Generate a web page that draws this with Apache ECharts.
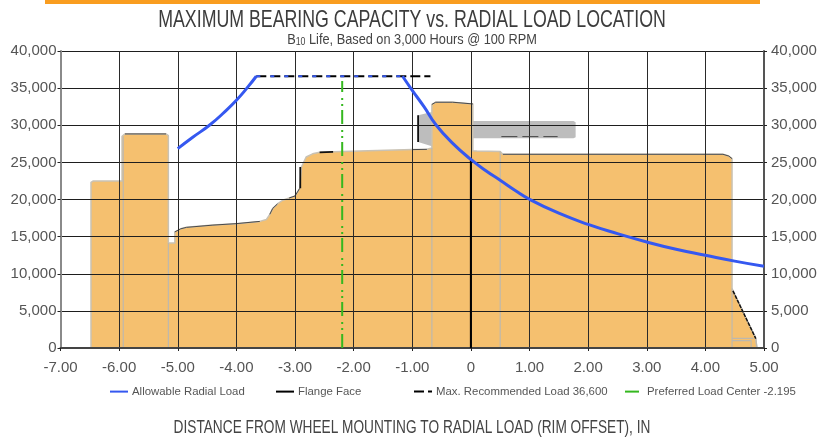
<!DOCTYPE html>
<html><head><meta charset="utf-8">
<style>html,body{margin:0;padding:0;background:#fff}#c{width:832px;height:438px}</style>
<script src="https://cdn.jsdelivr.net/npm/echarts@6/dist/echarts.min.js"></script>
</head><body><div id="c"></div>
<script>
const xTicks = [-7,-6,-5,-4,-3,-2,-1,0,1,2,3,4,5];
const titleText = 'MAXIMUM BEARING CAPACITY vs. RADIAL LOAD LOCATION';
const xAxisTitle = 'DISTANCE FROM WHEEL MOUNTING TO RADIAL LOAD (RIM OFFSET), IN';
const legendNames = ['Allowable Radial Load','Flange Face','Max. Recommended Load 36,600','Preferred Load Center -2.195'];

const allowableRise = [[-5,26850],[-4.75,28350],[-4.46,30000],[-4.2,31800],[-4,33360],[-3.8,35200],[-3.66,36600]];
const allowableFlat = [[-3.66,36600],[-1.165,36600]];
const allowableFall = [[-1.165,36600],[-1,34700],[-0.8,32500],[-0.59,30000],[-0.3,27500],[0,25400],[0.25,23900],[0.5,22590],[0.75,21250],[1,20030],[1.5,18150],[2,16650],[2.5,15400],[3,14280],[3.5,13300],[4,12490],[4.5,11700],[5,11000]];
const flangeFace = [[0,0],[0,25400]];
const maxLoad = [[-3.66,36600],[-0.69,36600]];
const preferred = [[-2.195,0],[-2.195,35960]];

const wheelShape = [[-6.48,0],[-6.48,22300],[-6.44,22490],[-5.95,22490],[-5.95,28500],[-5.9,28830],[-5.2,28830],[-5.16,28600],[-5.16,14140],[-5.05,14140],[-5.05,15630],[-4.95,16050],[-4.85,16250],[-4.4,16550],[-4,16750],[-3.6,17050],[-3.49,17300],[-3.43,18000],[-3.38,18800],[-3.3,19400],[-3.21,19900],[-3,20470],[-2.92,21500],[-2.89,24380],[-2.81,25730],[-2.7,26150],[-2.58,26350],[-2.2,26450],[-1.6,26600],[-0.99,26720],[-0.75,26760],[-0.665,26940],[-0.665,32800],[-0.6,33100],[-0.31,33100],[-0.28,32900],[0.034,32870],[0.034,26560],[0.1,26530],[0.5,26450],[0.546,26090],[4.3,26090],[4.4,25850],[4.455,25500],[4.455,8000],[4.86,1270],[4.88,0]];
const boltShape = [[-0.9,27750],[-0.9,31340],[-0.665,31800],[0.034,31800],[0.034,30580],[1.75,30580],[1.787,30400],[1.787,28400],[1.75,28250],[0.034,28250],[0.034,27170],[-0.665,27170]];
const darkEdges = [[-5.9,28830],[-5.2,28830],[null,null],[-5.05,15630],[-4.95,16050],[-4.85,16250],[-4.4,16550],[-4,16750],[-3.6,17050],[null,null],[-3.43,18000],[-3.38,18800],[-3.3,19400],[null,null],[-3.1,20200],[-3,20470],[-2.92,21500],[null,null],[-0.99,26720],[-0.75,26760],[null,null],[-0.665,32800],[-0.6,33100],[-0.31,33100],[-0.28,32900],[0.034,32870],[null,null],[0.546,26090],[4.3,26090],[4.4,25850],[4.455,25500]];
const blackEdges = [[-2.91,21500],[-2.91,24380],[null,null],[-2.58,26350],[-2.35,26420],[null,null],[-0.9,27750],[-0.9,31340]];
const slopeEdge = [[4.47,7700],[4.86,1270]];
const lightDividers = [[-5.93,0],[-5.93,28500],[null,null],[-5.16,0],[-5.16,14140],[null,null],[-0.665,0],[-0.665,26940],[null,null],[0.5,0],[0.5,26450],[null,null],[4.455,0],[4.455,8000],[null,null],[4.455,1300],[4.82,1300],[null,null],[4.455,1000],[4.78,1000],[4.78,0],[null,null],[4.88,0],[4.86,1270]];
const boltDashes = [[0.52,28470],[1.48,28470]];

const wide = '"Liberation Sans",sans-serif';
const blue = '#3558f0', green = '#35b81f', fill = '#f5c06f';

function line(name, data, z, color, width, type, extra){
  return Object.assign({type:'line',name,data,z,showSymbol:false,symbol:'none',silent:true,animation:false,
    lineStyle:{color,width,type:type||'solid',cap:'butt',join:'round'},itemStyle:{color}},extra||{});
}
function axisLabelY(){ return {fontFamily:wide,fontSize:15,color:'#555',padding:[5,0,0,0],
  formatter:v=>v.toLocaleString('en-US')}; }
const smoothCurve = {smooth:0.5};

const chart = echarts.init(document.getElementById('c'),null,{renderer:'canvas'});
chart.setOption({
  animation:false,
  backgroundColor:'#fff',
  legend:legendNames.map((n,i)=>({
    data:[n],left:[109,275,413,624][i],top:386,itemWidth:18,itemHeight:14,itemGap:0,icon:'inherit',
    itemStyle:{color:'rgba(0,0,0,0)',borderColor:'rgba(0,0,0,0)',borderWidth:0},
    textStyle:{fontFamily:wide,fontSize:11.4,color:'#555',padding:[0,0,0,-1]},selectedMode:false,padding:0
  })),
  graphic:[
    {type:'rect',shape:{x:45,y:0,width:715,height:4},style:{fill:'#f99d20'},silent:true},
    {type:'text',x:412,y:20.5,scaleX:0.74,silent:true,style:{text:titleText,textAlign:'center',textVerticalAlign:'middle',
      fontFamily:wide,fontSize:24,fill:'#3c3c3c'}},
    {type:'text',x:412,y:40,scaleX:0.88,silent:true,style:{text:'{a|B}{b|10}{a| Life, Based on 3,000 Hours @ 100 RPM}',textAlign:'center',textVerticalAlign:'middle',
      rich:{a:{fontFamily:wide,fontSize:14.5,fill:'#444'},b:{fontFamily:wide,fontSize:10,fill:'#444',verticalAlign:'bottom'}}}},
    {type:'text',x:412,y:428,scaleX:0.76,silent:true,style:{text:xAxisTitle,textAlign:'center',textVerticalAlign:'middle',
      fontFamily:wide,fontSize:18,fill:'#444'}}
  ],
  grid:{left:60.5,right:68,top:51,bottom:90,containLabel:false,show:false},
  xAxis:{type:'value',min:-7,max:5,interval:1,z:3,
    axisLine:{onZero:false,lineStyle:{color:'#444',width:2}},
    axisTick:{length:3,lineStyle:{color:'#222'}},
    axisLabel:{margin:12,fontFamily:wide,fontSize:15,color:'#555',showMinLabel:true,showMaxLabel:true,
      formatter:v=>v===0?'0':v.toFixed(2)},
    splitLine:{show:true,lineStyle:{color:'#2a2a2a',width:1}}},
  yAxis:[
    {type:'value',min:0,max:40000,interval:5000,position:'left',z:3,
     axisLine:{show:true,onZero:false,lineStyle:{color:'#8a8a8a',width:2}},
     axisTick:{show:true,length:3,lineStyle:{color:'#222'}},
     axisLabel:Object.assign(axisLabelY(),{margin:4}),
     splitLine:{show:true,lineStyle:{color:'#1e1e1e',width:1}}},
    {type:'value',min:0,max:40000,interval:5000,position:'right',z:3,
     axisLine:{show:true,onZero:false,lineStyle:{color:'#555',width:2}},
     axisTick:{show:true,length:3,lineStyle:{color:'#222'}},
     axisLabel:Object.assign(axisLabelY(),{margin:7,align:'left'}),
     splitLine:{show:false}}
  ],
  series:[
    {type:'custom',name:'Bolt',z:1,silent:true,animation:false,data:boltShape,coordinateSystem:'cartesian2d',
     encode:{x:0,y:1},
     renderItem:function(p,api){
       if(p.dataIndex!==0) return null;
       return {type:'polygon',shape:{points:boltShape.map(q=>api.coord(q))},style:{fill:'#bdbdbd',stroke:null}};
     }},
    line('Wheel',wheelShape,2,'#c9c2b4',1.5,'solid',{areaStyle:{color:fill,opacity:1,origin:'start'}}),
    line('Dividers',lightDividers,2.5,'#bdb8ae',1.2),
    line('Dark edges',darkEdges,2.6,'#4a4a4a',1),
    line('Black edges',blackEdges,2.7,'#111',1.8),
    line('Slope edge',slopeEdge,2.7,'#111',1.5,[4,1]),
    line(legendNames[1],flangeFace,4,'#000',2),
    line('Bolt dashes',boltDashes,4,'#444',1,[16,5]),
    line(legendNames[2],maxLoad,5,'#000',2,[10,4]),
    line(legendNames[3],preferred,5,green,2,[14,4,2,4,2,6]),
    line(legendNames[0],allowableRise,6,blue,3,'solid',smoothCurve),
    line('Allowable flat',allowableFlat,6,blue,2,[4,10]),
    line('Allowable fall',allowableFall,6,blue,3,'solid',smoothCurve)
  ]
});
</script></body></html>
